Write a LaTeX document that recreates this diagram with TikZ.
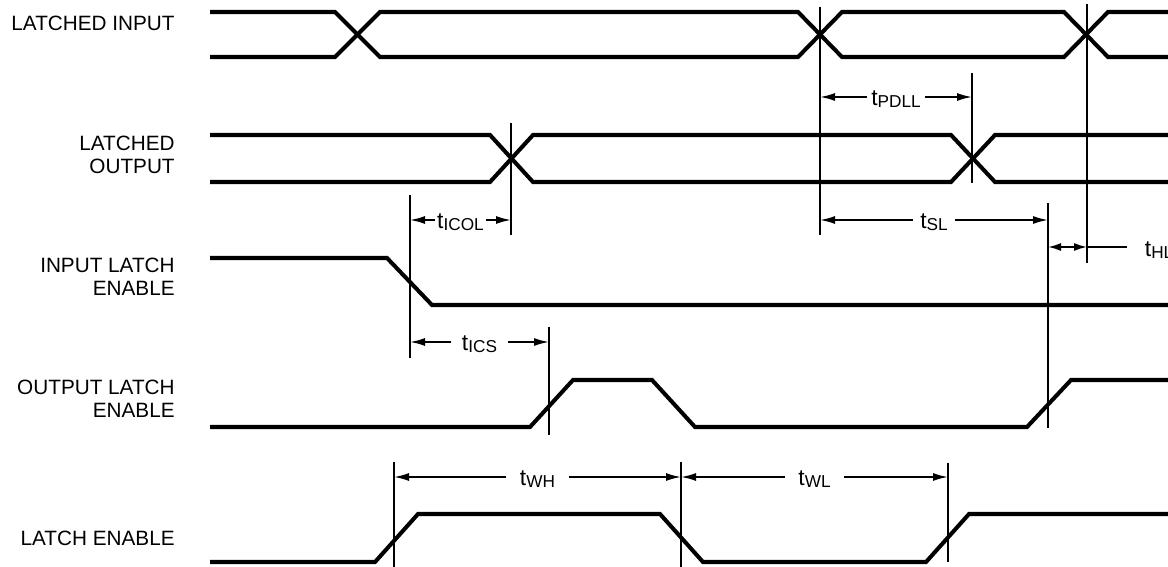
\documentclass[tikz,border=0pt]{standalone}
\usepackage{fontspec}
\setmainfont{Liberation Sans}
\usetikzlibrary{arrows.meta,calc,positioning}
\newcommand{\tsub}[1]{{\fontsize{13}{13}\selectfont t}\raisebox{-1.2pt}{\fontsize{9.8}{9.8}\selectfont #1}}

\begin{document}
\begin{tikzpicture}[
x=0.02cm, y=-0.02cm,
Signal/.style={line width=2.3pt},
Marker/.style={line width=1.1pt},
Dim/.style={line width=1pt,-{Latex[length=3mm,width=1.6mm]}},
DimBoth/.style={line width=1pt,{Latex[length=2.6mm,width=1.6mm]}-{Latex[length=2.6mm,width=1.6mm]}},
DimLabel/.style={inner ysep=0pt},
SigName/.style={anchor=east, align=right, inner sep=0pt, font=\fontsize{11.8}{13}\selectfont}
]
\useasboundingbox (0,0) rectangle (1168,567);

% signal names
\node[SigName] (li)  at (175,23)  {LATCHED INPUT};
\node[SigName] (lo)  at (175,155) {LATCHED\\OUTPUT};
\node[SigName] (ile) at (175,277) {INPUT LATCH\\ENABLE};
\node[SigName] (ole) at (175,399) {OUTPUT LATCH\\ENABLE};
\node[SigName] (le)  at (175,538) {LATCH ENABLE};

% latched input
\draw[Signal] (210,12) -- (335,12) -- (380,57) -- (798,57) -- (842,12) -- (1064,12) -- (1108,57) -- (1168,57);
\draw[Signal] (210,57) -- (335,57) -- (380,12) -- (798,12) -- (842,57) -- (1064,57) -- (1108,12) -- (1168,12);

% latched output
\draw[Signal] (210,135) -- (490,135) -- (533,182) -- (951,182) -- (995,135) -- (1168,135);
\draw[Signal] (210,182) -- (490,182) -- (533,135) -- (951,135) -- (995,182) -- (1168,182);

% input latch enable
\draw[Signal] (210,258) -- (387,258) -- (432,305) -- (1168,305);

% output latch enable
\draw[Signal] (210,427) -- (530,427) -- (573,380) -- (652,380) -- (695,427) -- (1027,427) -- (1071,380) -- (1168,380);

% latch enable
\draw[Signal] (210,562) -- (375,562) -- (418,514) -- (660,514) -- (703,562) -- (926,562) -- (969,514) -- (1168,514);

% reference lines
\foreach \x/\ya/\yb in {410/195/358, 511/123/235, 549/327/435, 820/7/235, 972/73/183,
                        1048/203/428, 1087/4/263, 394/462/567, 681/462/567, 948/463/562}
  \draw[Marker] (\x,\ya) -- (\x,\yb);

% timing arrows
\foreach \n/\xa/\xb/\y/\t/\s in {pdll/820/972/97/PDLL/2.5pt, sl/820/1048/220/SL/4pt,
                                icol/410/511/220/ICOL/1pt, ics/410/549/342/ICS/6pt,
                                wh/394/681/477/WH/7.5pt, wl/681/948/477/WL/7.5pt}
{
  \coordinate (\n L) at (\xa,\y);
  \coordinate (\n R) at (\xb,\y);
  \node[DimLabel, inner xsep=\s] (\n) at ($(\n L)!0.5!(\n R)+(0,2.5)$) {\tsub{\t}};
  \draw[Dim] (\n.west |- \n L) -- (\n L);
  \draw[Dim] (\n.east |- \n R) -- (\n R);
}

% hold time
\coordinate (hlL) at (1048,247);
\coordinate (hlR) at (1087,247);
\draw[DimBoth] (hlL) -- (hlR);
\node[DimLabel, anchor=west, inner xsep=10pt] (hl) at (1127,250) {\tsub{HL}};
\draw[line width=1pt] (hlR) -- (hl.west |- hlR);

\end{tikzpicture}
\end{document}
